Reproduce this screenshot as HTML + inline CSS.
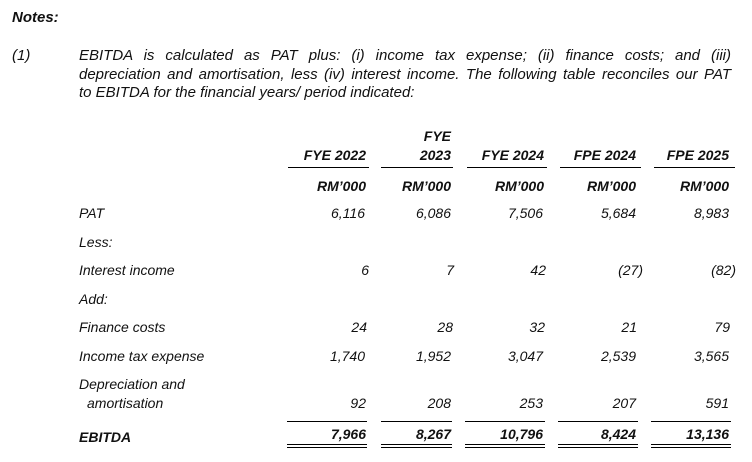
<!DOCTYPE html>
<html><head><style>
body{margin:0;width:752px;height:462px;background:#fff;font-family:"Liberation Sans",Arial,sans-serif;font-style:italic;font-size:14px;color:#111;position:relative;overflow:hidden}
.a{position:absolute;white-space:nowrap;line-height:16px}
.r{text-align:right}
.b{font-weight:bold}
.l{position:absolute;height:0;border-top:1.5px solid #000}
.pl{position:absolute;left:79px;width:652px;font-size:15px;line-height:18px;text-align:justify;text-align-last:justify;white-space:nowrap}
</style></head><body>
<div class="a b" style="left:12px;top:10px;font-size:15px">Notes:</div>
<div class="a" style="left:12px;top:48px;font-size:15px">(1)</div>
<div class="pl" style="top:47px">EBITDA is calculated as PAT plus: (i) income tax expense; (ii) finance costs; and (iii)</div>
<div class="pl" style="top:66px">depreciation and amortisation, less (iv) interest income. The following table reconciles our PAT</div>
<div class="pl" style="top:84px;text-align-last:left">to EBITDA for the financial years/ period indicated:</div>

<div class="a b r" style="right:386px;top:147px">FYE 2022</div>
<div class="a b r" style="right:301px;top:128px">FYE</div>
<div class="a b r" style="right:301px;top:147px">2023</div>
<div class="a b r" style="right:208px;top:147px">FYE 2024</div>
<div class="a b r" style="right:116px;top:147px">FPE 2024</div>
<div class="a b r" style="right:23px;top:147px">FPE 2025</div>
<div class="l" style="left:288px;width:81px;top:167px"></div>
<div class="l" style="left:381px;width:72px;top:167px"></div>
<div class="l" style="left:467px;width:80px;top:167px"></div>
<div class="l" style="left:560px;width:81px;top:167px"></div>
<div class="l" style="left:654px;width:81px;top:167px"></div>

<div class="a b r" style="right:386px;top:178px">RM’000</div>
<div class="a b r" style="right:301px;top:178px">RM’000</div>
<div class="a b r" style="right:208px;top:178px">RM’000</div>
<div class="a b r" style="right:116px;top:178px">RM’000</div>
<div class="a b r" style="right:23px;top:178px">RM’000</div>

<div class="a" style="left:79px;top:205px">PAT</div>
<div class="a r" style="right:387px;top:205px">6,116</div>
<div class="a r" style="right:301px;top:205px">6,086</div>
<div class="a r" style="right:209px;top:205px">7,506</div>
<div class="a r" style="right:116px;top:205px">5,684</div>
<div class="a r" style="right:23px;top:205px">8,983</div>

<div class="a" style="left:79px;top:234px">Less:</div>
<div class="a" style="left:79px;top:262px">Interest income</div>
<div class="a r" style="right:383px;top:262px">6</div>
<div class="a r" style="right:298px;top:262px">7</div>
<div class="a r" style="right:206px;top:262px">42</div>
<div class="a r" style="right:109px;top:262px">(27)</div>
<div class="a r" style="right:16px;top:262px">(82)</div>

<div class="a" style="left:79px;top:291px">Add:</div>
<div class="a" style="left:79px;top:319px">Finance costs</div>
<div class="a r" style="right:385px;top:319px">24</div>
<div class="a r" style="right:299px;top:319px">28</div>
<div class="a r" style="right:207px;top:319px">32</div>
<div class="a r" style="right:115px;top:319px">21</div>
<div class="a r" style="right:22px;top:319px">79</div>

<div class="a" style="left:79px;top:348px">Income tax expense</div>
<div class="a r" style="right:387px;top:348px">1,740</div>
<div class="a r" style="right:301px;top:348px">1,952</div>
<div class="a r" style="right:209px;top:348px">3,047</div>
<div class="a r" style="right:116px;top:348px">2,539</div>
<div class="a r" style="right:23px;top:348px">3,565</div>

<div class="a" style="left:79px;top:376px">Depreciation and</div>
<div class="a" style="left:87px;top:395px">amortisation</div>
<div class="a r" style="right:386px;top:395px">92</div>
<div class="a r" style="right:301px;top:395px">208</div>
<div class="a r" style="right:209px;top:395px">253</div>
<div class="a r" style="right:116px;top:395px">207</div>
<div class="a r" style="right:23px;top:395px">591</div>

<div class="l" style="left:287px;width:80px;top:421px"></div>
<div class="l" style="left:381px;width:71px;top:421px"></div>
<div class="l" style="left:465px;width:80px;top:421px"></div>
<div class="l" style="left:558px;width:80px;top:421px"></div>
<div class="l" style="left:651px;width:80px;top:421px"></div>

<div class="a b" style="left:79px;top:429px">EBITDA</div>
<div class="a b r" style="right:386px;top:426px">7,966</div>
<div class="a b r" style="right:301px;top:426px">8,267</div>
<div class="a b r" style="right:209px;top:426px">10,796</div>
<div class="a b r" style="right:116px;top:426px">8,424</div>
<div class="a b r" style="right:23px;top:426px">13,136</div>

<div class="l" style="left:287px;width:80px;top:444px;border-top-width:1px"></div>
<div class="l" style="left:381px;width:71px;top:444px;border-top-width:1px"></div>
<div class="l" style="left:465px;width:80px;top:444px;border-top-width:1px"></div>
<div class="l" style="left:558px;width:80px;top:444px;border-top-width:1px"></div>
<div class="l" style="left:651px;width:80px;top:444px;border-top-width:1px"></div>
<div class="l" style="left:287px;width:80px;top:447px;border-top-width:1px"></div>
<div class="l" style="left:381px;width:71px;top:447px;border-top-width:1px"></div>
<div class="l" style="left:465px;width:80px;top:447px;border-top-width:1px"></div>
<div class="l" style="left:558px;width:80px;top:447px;border-top-width:1px"></div>
<div class="l" style="left:651px;width:80px;top:447px;border-top-width:1px"></div>
</body></html>
